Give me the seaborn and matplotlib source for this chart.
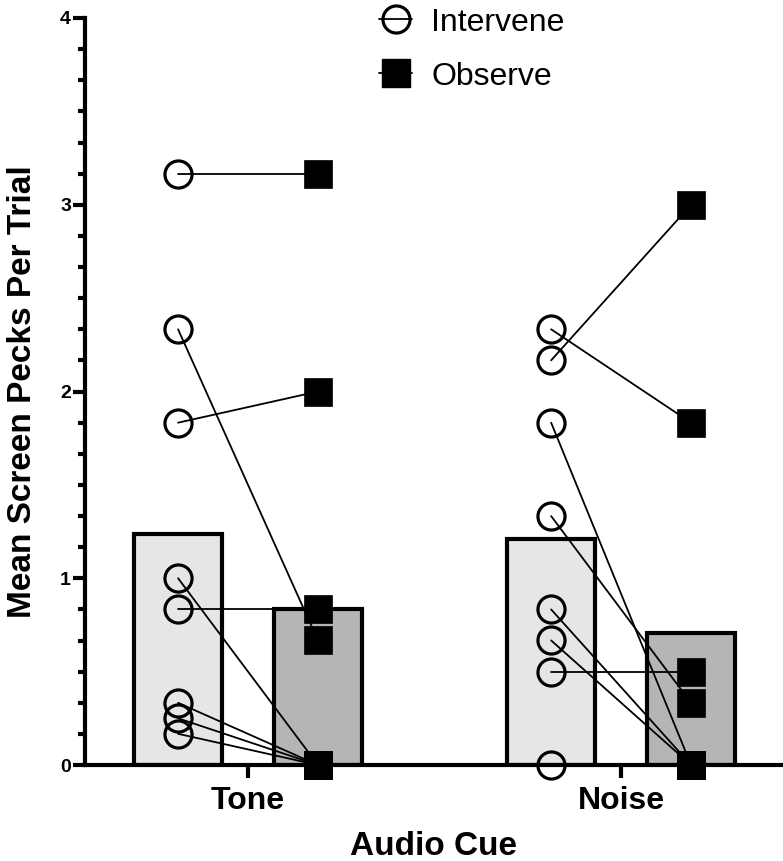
import matplotlib
matplotlib.use("Agg")
import matplotlib.pyplot as plt
from matplotlib.lines import Line2D
from matplotlib.ticker import MultipleLocator
import numpy as np
import pandas as pd
import seaborn as sns

# ---- data ----
cues = ["Tone", "Noise"]
conditions = ["Intervene", "Observe"]
tone_intervene = [3.167, 2.333, 1.833, 1.0, 0.833, 0.333, 0.25, 0.167]
tone_observe = [3.167, 0.667, 2.0, 0.0, 0.833, 0.0, 0.0, 0.0]
noise_intervene = [2.333, 2.167, 1.833, 1.333, 0.833, 0.667, 0.5, 0.0]
noise_observe = [1.833, 3.0, 0.0, 0.333, 0.0, 0.0, 0.5, 0.0]
y_ticks = [0, 1, 2, 3, 4]

bar_colors = ["#e6e6e6", "#b5b4b9"]

sns.set_theme(style="white")
plt.rcParams["font.family"] = ["Liberation Sans", "DejaVu Sans"]
plt.rcParams["text.color"] = "black"

rows = []
for cue, iv, ov in [("Tone", tone_intervene, tone_observe),
                    ("Noise", noise_intervene, noise_observe)]:
    for v in iv:
        rows.append({"cue": cue, "cond": "Intervene", "value": v})
    for v in ov:
        rows.append({"cue": cue, "cond": "Observe", "value": v})
df = pd.DataFrame(rows)

fig = plt.figure(figsize=(7.83, 8.61), dpi=100)
ax = fig.add_axes([85 / 783, 1 - 765 / 861, 1 - 85 / 783, (765 - 18) / 861])

total_w = 0.75
gap = 0.37
sns.barplot(data=df, x="cue", y="value", hue="cond", order=cues,
            hue_order=conditions, palette=bar_colors, errorbar=None,
            width=total_w, gap=gap, edgecolor="black", linewidth=3,
            legend=False, ax=ax, zorder=1)

off = total_w / 4
for i, (iv, ov) in enumerate([(tone_intervene, tone_observe),
                              (noise_intervene, noise_observe)]):
    xi, xo = i - off, i + off
    for a, b in zip(iv, ov):
        ax.plot([xi, xo], [a, b], color="black", lw=1.3, zorder=2,
                clip_on=False)
    ax.plot([xi] * len(iv), iv, ls="none", marker="o", ms=19.5,
            mfc="none", mec="black", mew=2.3, zorder=3, clip_on=False)
    ax.plot([xo] * len(ov), ov, ls="none", marker="s", ms=20,
            mfc="black", mec="black", mew=0.5, zorder=3, clip_on=False)

ax.set_xlim(-0.437, 1.434)
ax.set_ylim(0, 4)
ax.set_yticks(y_ticks)
ax.yaxis.set_minor_locator(MultipleLocator(1 / 6))
sns.despine(ax=ax)
for s in ["left", "bottom"]:
    ax.spines[s].set_linewidth(3)
    ax.spines[s].set_color("black")
ax.tick_params(axis="y", which="major", length=9, width=3, direction="out",
               labelsize=14, pad=1, left=True, colors="black")
ax.tick_params(axis="y", which="minor", length=5, width=3, direction="out",
               left=True, colors="black")
ax.tick_params(axis="x", which="major", length=9, width=3, direction="out",
               labelsize=23, pad=6, bottom=True, colors="black")
for lab in ax.get_yticklabels():
    lab.set_fontweight("bold")
for lab in ax.get_xticklabels():
    lab.set_fontweight("bold")

ax.set_xlabel("Audio Cue", fontsize=24, fontweight="bold", labelpad=11,
              color="black")
ax.set_ylabel("Mean Screen Pecks Per Trial", fontsize=24, fontweight="bold",
              color="black", labelpad=16)

handles = [
    Line2D([], [], color="black", lw=1.3, marker="o", ms=19.5, mfc="none",
           mec="black", mew=2.3),
    Line2D([], [], color="black", lw=1.3, marker="s", ms=20, mfc="black",
           mec="black"),
]
leg = ax.legend(handles, conditions, loc="upper left",
                bbox_to_anchor=(366 / 783, 1.006),
                bbox_transform=fig.transFigure, frameon=False, fontsize=23,
                handlelength=1.05, handletextpad=0.6, labelspacing=0.75,
                borderaxespad=0.0)
for t in leg.get_texts():
    t.set_color("black")

fig.savefig("out.png", dpi=100)
